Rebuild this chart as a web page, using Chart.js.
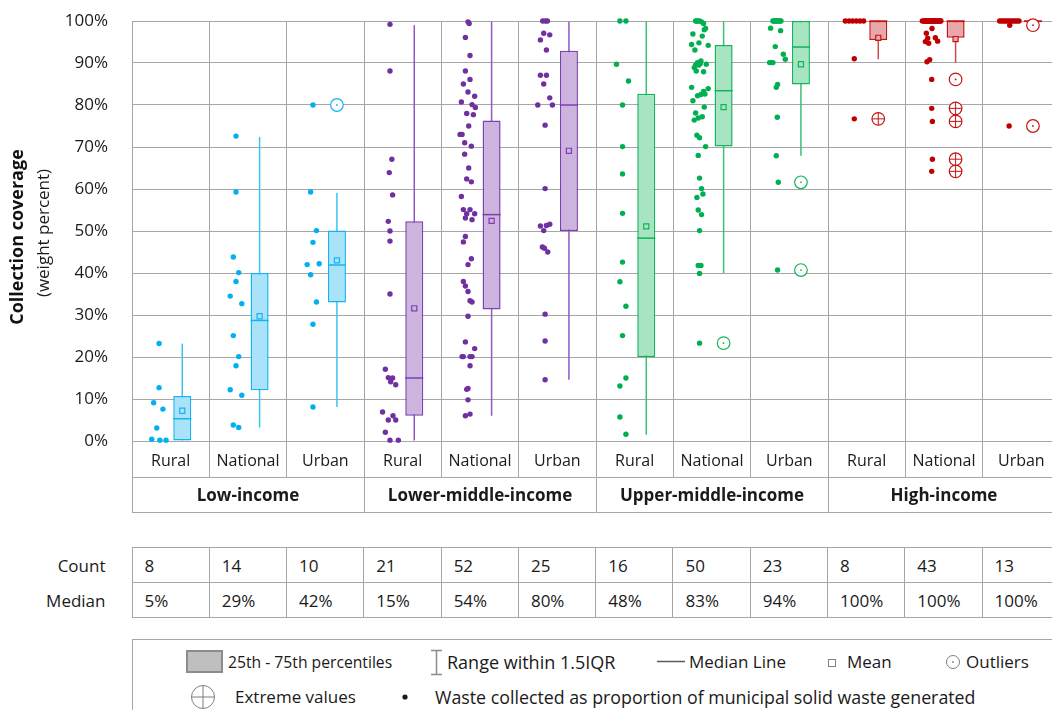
<!DOCTYPE html>
<html lang="en">
<head>
<meta charset="UTF-8">
<title>Collection coverage by income group</title>
<script src="https://cdn.jsdelivr.net/npm/chart.js"></script>
<style>
  body { margin: 0; background: #fff; overflow: hidden; font-family: 'Open Sans', sans-serif; color: #1a1a1a; }
  #page { position: relative; width: 1060px; height: 710px; }
  #chartBox { position: absolute; left: 0; top: 0; }
  #stats { position: absolute; left: 0; top: 547px; border-collapse: collapse; table-layout: fixed; width: 1060px; font-size: 17px; }
  #stats td { height: 34px; padding: 0 0 0 12px; border: 1px solid #a6a6a6; white-space: nowrap; }
  #stats td.rowHead { border: none; text-align: right; padding: 0 26px 0 0; }
  #legend { position: absolute; left: 132px; top: 639px; width: 940px; height: 90px; border: 1px solid #a6a6a6; box-sizing: border-box; }
  .lt { position: absolute; font-size: 17px; line-height: 22px; white-space: nowrap; }
  .sym { position: absolute; overflow: visible; }
</style>
</head>
<body>
<div id="page">
  <div id="chartBox"><canvas id="coverageChart" width="1060" height="515"></canvas></div>

  <table id="stats"></table>

  <div id="legend"></div>
  <svg class="sym" style="left:186px;top:650px" width="38" height="24"><rect x="1" y="1" width="35" height="21" fill="#bfbfbf" stroke="#8c8c8c" stroke-width="2"/></svg>
  <span class="lt" style="left:228px;top:651px;font-size:15.7px">25th - 75th percentiles</span>
  <svg class="sym" style="left:429px;top:649px" width="16" height="28"><path d="M2 1.5H13M7.5 1.5V25.5M2 25.5H13" stroke="#8c8c8c" stroke-width="1.5" fill="none"/></svg>
  <span class="lt" style="left:447px;top:651px;font-size:18px">Range within 1.5IQR</span>
  <svg class="sym" style="left:656px;top:655px" width="30" height="14"><path d="M1 6.5H29" stroke="#595959" stroke-width="1.5"/></svg>
  <span class="lt" style="left:689px;top:651px">Median Line</span>
  <svg class="sym" style="left:826px;top:657px" width="12" height="12"><rect x="2.5" y="2.5" width="7" height="7" fill="none" stroke="#7f7f7f" stroke-width="1"/></svg>
  <span class="lt" style="left:847px;top:651px">Mean</span>
  <svg class="sym" style="left:944px;top:653px" width="18" height="18"><circle cx="9" cy="9" r="6.5" fill="none" stroke="#7f7f7f" stroke-width="1"/><circle cx="9" cy="9" r="0.9" fill="#7f7f7f"/></svg>
  <span class="lt" style="left:966px;top:651px">Outliers</span>
  <svg class="sym" style="left:190px;top:684px" width="26" height="26"><circle cx="13" cy="13" r="11.5" fill="none" stroke="#7f7f7f" stroke-width="1"/><path d="M1.5 13H24.5M13 1.5V24.5" stroke="#7f7f7f" stroke-width="1"/></svg>
  <span class="lt" style="left:235px;top:686px">Extreme values</span>
  <svg class="sym" style="left:400px;top:692px" width="10" height="10"><circle cx="5" cy="5" r="2.6" fill="#1a1a1a"/></svg>
  <span class="lt" style="left:435px;top:686px;font-size:17.8px">Waste collected as proportion of municipal solid waste generated</span>
</div>

<script>
  // ---- data ----
  const groups = ['Low-income', 'Lower-middle-income', 'Upper-middle-income', 'High-income'];
  const areas = ['Rural', 'National', 'Urban'];

  // one entry per box, order: group by group, Rural / National / Urban
  const counts = [8, 14, 10, 21, 52, 25, 16, 50, 23, 8, 43, 13];
  const medianText = ['5%', '29%', '42%', '15%', '54%', '80%', '48%', '83%', '94%', '100%', '100%', '100%'];

  const q1 =          [0,    12.1, 33.0, 6.0,  31.3, 50.0, 20.0, 70.1, 84.9, 95.5, 96.0, 99.7];
  const medians =     [5.3,  28.7, 41.9, 15.0, 53.9, 80.0, 48.3, 83.4, 93.8, 100,  100,  100];
  const q3 =          [10.7, 40.0, 50.1, 52.3, 76.3, 92.9, 82.7, 94.3, 100,  100,  100,  100];
  const means =       [7.2,  29.7, 43.0, 31.6, 52.4, 69.1, 51.1, 79.5, 89.7, 96.0, 95.7, 99.0];
  const whiskerLow =  [0,    3.2,  8.1,  0,    6.0,  14.6, 1.5,  40.0, 67.9, 90.9, 90.1, 100];
  const whiskerHigh = [23.2, 72.4, 59.1, 99.0, 99.8, 99.8, 99.8, 99.8, 100,  100,  100,  100];

  // [box index, value]
  const outliers = [[2, 80.0], [7, 23.3], [8, 61.6], [8, 40.7], [10, 86.1], [11, 99.0], [11, 75.0]];
  const extremes = [[9, 76.7], [10, 79.2], [10, 76.1], [10, 67.1], [10, 64.2]];

  // country points per box: [position inside the column (0..1), value]
  const dots = [
    [[0.35,23.2],[0.35,12.7],[0.28,9.1],[0.40,7.6],[0.32,3.1],[0.255,0.4],[0.36,0.2],[0.44,0.2]],
    [[0.345,72.6],[0.345,59.3],[0.31,43.8],[0.38,40.1],[0.345,38.0],[0.27,34.5],[0.42,32.7],[0.31,25.1],[0.38,20.1],[0.345,17.9],[0.27,12.2],[0.42,10.9],[0.31,3.8],[0.38,3.2]],
    [[0.34,80.0],[0.31,59.3],[0.385,50.1],[0.34,47.3],[0.265,42.0],[0.42,42.2],[0.31,39.6],[0.385,33.1],[0.34,27.8],[0.34,8.1]],
    [[0.336,99.2],[0.336,88.1],[0.36,67.1],[0.327,63.9],[0.37,58.6],[0.314,52.3],[0.336,50.0],[0.336,47.6],[0.336,35.0],[0.276,17.1],[0.314,15.1],[0.37,15.0],[0.345,14.1],[0.41,13.4],[0.24,6.9],[0.375,6.0],[0.314,5.0],[0.41,5.0],[0.276,2.1],[0.336,0.2],[0.444,0.2]],
    [[0.345,99.8],[0.36,99.4],[0.311,96.1],[0.371,91.8],[0.311,88.1],[0.371,86.1],[0.285,85.0],[0.345,83.1],[0.431,82.1],[0.259,80.7],[0.397,80.1],[0.44,79.4],[0.328,78.0],[0.414,77.7],[0.354,75.0],[0.242,73.0],[0.268,73.0],[0.302,71.0],[0.388,70.2],[0.302,68.3],[0.354,65.0],[0.328,62.4],[0.388,61.7],[0.259,58.2],[0.285,55.1],[0.371,55.1],[0.328,54.1],[0.431,54.1],[0.311,53.1],[0.397,52.7],[0.311,48.7],[0.285,47.4],[0.388,43.4],[0.345,42.0],[0.285,38.0],[0.311,36.9],[0.345,35.6],[0.371,33.4],[0.397,33.1],[0.345,29.7],[0.311,23.6],[0.431,22.0],[0.268,20.1],[0.285,20.1],[0.371,20.1],[0.397,20.1],[0.371,17.9],[0.328,12.3],[0.345,12.5],[0.345,9.8],[0.311,6.0],[0.371,6.4]],
    [[0.311,100],[0.346,100],[0.372,100],[0.324,97.1],[0.402,96.7],[0.281,95.5],[0.359,93.1],[0.281,87.1],[0.359,87.1],[0.324,85.0],[0.402,81.7],[0.247,80.0],[0.436,80.0],[0.342,75.2],[0.342,60.1],[0.281,51.2],[0.324,50.1],[0.359,51.3],[0.402,51.6],[0.307,46.2],[0.333,45.9],[0.376,45.0],[0.342,30.2],[0.342,23.8],[0.342,14.6]],
    [[0.309,100],[0.387,100],[0.265,89.7],[0.42,85.7],[0.343,80.0],[0.343,70.1],[0.343,63.6],[0.343,54.2],[0.343,42.6],[0.309,37.9],[0.387,32.1],[0.343,25.1],[0.387,15.0],[0.309,13.1],[0.309,5.7],[0.387,1.6]],
    [[0.288,100],[0.305,100],[0.313,100],[0.339,100],[0.365,99.8],[0.391,99.4],
     [0.417,98.2],[0.4,97.9],[0.253,96.9],[0.374,96.4],[0.331,94.8],[0.236,94.4],[0.451,94.2],[0.279,93.1],
     [0.357,90.5],[0.313,90.1],[0.288,89.5],[0.27,88.9],[0.426,89.7],[0.391,87.9],[0.296,88.1],[0.331,89.5],[0.348,89.9],
     [0.236,84.2],[0.451,83.9],[0.313,82.2],[0.357,82.5],[0.409,82.6],[0.253,81.0],[0.391,83.2],
     [0.4,79.5],[0.288,78.1],[0.322,76.9],[0.374,77.2],[0.27,76.4],
     [0.305,72.8],[0.339,72.2],[0.417,70.1],[0.322,68.0],[0.339,62.6],[0.365,60.1],[0.383,58.8],[0.305,58.0],[0.322,55.0],[0.365,53.9],[0.339,50.1],[0.322,41.8],[0.357,41.8],[0.339,39.9],[0.339,23.3]],
    [[0.288,100],[0.3,100],[0.314,100],[0.327,100],[0.34,100],[0.353,100],[0.366,100],[0.38,100],[0.392,100],
     [0.258,98.3],[0.387,97.7],[0.318,93.9],[0.422,92.1],[0.448,90.9],[0.245,90.1],[0.268,90.1],[0.288,90.1],[0.348,84.9],[0.331,84.2],[0.344,77.1],[0.331,67.9],[0.357,61.6],[0.348,40.7]],
    [[0.224,100],[0.272,100],[0.318,100],[0.366,100],[0.414,100],[0.461,100],[0.34,91.0],[0.34,76.7]],
    [[0.22,100],[0.24,100],[0.26,100],[0.28,100],[0.30,100],[0.32,100],[0.34,100],[0.36,100],[0.38,100],[0.40,100],[0.42,100],[0.44,100],[0.46,100],
     [0.25,100],[0.29,100],[0.33,100],[0.37,100],[0.41,100],[0.45,100],[0.27,100],[0.31,100],[0.35,100],[0.39,100],[0.43,100],
     [0.30,100],[0.34,100],[0.38,100],[0.32,100],[0.36,100],
     [0.345,98.2],[0.272,97.1],[0.289,95.9],[0.388,96.0],[0.418,95.2],[0.259,95.1],[0.302,94.7],[0.28,90.3],[0.315,90.8],[0.341,86.1],[0.341,79.2],[0.35,76.1],[0.35,67.1],[0.341,64.2]],
    [[0.22,100],[0.245,100],[0.27,100],[0.295,100],[0.32,100],[0.345,100],[0.37,100],[0.395,100],[0.42,100],[0.445,100],[0.47,100],[0.35,99.0],[0.342,75.0]]
  ];

  // ---- styling ----
  const dotColors     = ['#00b0f0', '#7030a0', '#00b050', '#c00000'];
  const boxFills      = ['#a9e2f9', '#cdb4de', '#a7e4c2', '#e6a8a9'];
  const boxBorders    = ['#13b5f0', '#7d3fb1', '#12b45a', '#c41414'];
  const whiskerColors = ['#3cc2f3', '#9357c3', '#3dbf73', '#d24b4b'];

  const BOX_POS = 0.65;               // box sits right of the column centre
  const Y_AXIS_W = 132;
  const COL_W = (1060 - Y_AXIS_W) / 12;
  const gridGray = '#a6a6a6';

  const groupOf = i => Math.floor(i / 3);
  const byBox = arr => counts.map((_, i) => arr[groupOf(i)]);
  const at = (i, v) => ({ x: i + BOX_POS, y: v });

  Chart.defaults.font.family = "'Open Sans', sans-serif";
  Chart.defaults.color = '#1a1a1a';

  const dotPoints = [], dotColorList = [];
  dots.forEach((col, i) => col.forEach(([dx, v]) => {
    dotPoints.push({ x: i + dx, y: v });
    dotColorList.push(dotColors[groupOf(i)]);
  }));

  const yTitle = {
    id: 'yTitle',
    afterDraw(chart) {
      const { ctx, chartArea } = chart;
      const mid = (chartArea.top + chartArea.bottom) / 2;
      ctx.save();
      ctx.fillStyle = '#111';
      ctx.textAlign = 'center';
      ctx.textBaseline = 'middle';
      ctx.translate(18, mid + 6);
      ctx.rotate(-Math.PI / 2);
      ctx.font = "bold 18px 'Open Sans'";
      ctx.fillText('Collection coverage', 0, 0);
      ctx.restore();
      ctx.save();
      ctx.fillStyle = '#1a1a1a';
      ctx.textAlign = 'center';
      ctx.textBaseline = 'middle';
      ctx.translate(44, mid + 2);
      ctx.rotate(-Math.PI / 2);
      ctx.font = "17px 'Open Sans'";
      ctx.fillText('(weight percent)', 0, 0);
      ctx.restore();
    }
  };

  const colTicks = n => scale => { scale.ticks = Array.from({ length: n }, (_, k) => ({ value: k * (12 / (n - 1)) })); };

  new Chart(document.getElementById('coverageChart'), {
    type: 'scatter',
    data: {
      datasets: [
        {
          type: 'bar', label: 'Range within 1.5IQR',
          data: whiskerLow.map((lo, i) => at(i, [lo, whiskerHigh[i]])),
          backgroundColor: byBox(whiskerColors), borderWidth: 0,
          grouped: false, maxBarThickness: 1.5, order: 6, clip: false
        },
        {
          type: 'bar', label: '25th - 75th percentiles',
          data: q1.map((lo, i) => at(i, [lo, q3[i]])),
          backgroundColor: byBox(boxFills), borderColor: byBox(boxBorders),
          borderWidth: 1.5, borderSkipped: false,
          grouped: false, maxBarThickness: 18, order: 5, clip: false
        },
        {
          label: 'Median Line', data: medians.map((m, i) => at(i, m)),
          pointStyle: 'line', pointRadius: 9, pointBorderWidth: 1.5,
          pointBorderColor: byBox(boxBorders), order: 4, clip: false
        },
        {
          label: 'Mean', data: means.map((m, i) => at(i, m)),
          pointStyle: 'rect', pointRadius: 3.6, pointBorderWidth: 1.2,
          pointBackgroundColor: byBox(boxFills), pointBorderColor: byBox(boxBorders), order: 3, clip: false
        },
        {
          label: 'Outliers', data: outliers.map(([i, v]) => at(i, v)),
          pointStyle: 'circle', pointRadius: 6.3, pointBorderWidth: 1.2, pointBackgroundColor: '#fff',
          pointBorderColor: outliers.map(([i]) => boxBorders[groupOf(i)]), order: 2, clip: false
        },
        {
          label: 'Outlier centre', data: outliers.map(([i, v]) => at(i, v)),
          pointStyle: 'circle', pointRadius: 0.9, pointBorderWidth: 0,
          pointBackgroundColor: outliers.map(([i]) => boxBorders[groupOf(i)]), order: 1, clip: false
        },
        {
          label: 'Extreme values', data: extremes.map(([i, v]) => at(i, v)),
          pointStyle: 'circle', pointRadius: 6.3, pointBorderWidth: 1.2, pointBackgroundColor: '#fff',
          pointBorderColor: extremes.map(([i]) => boxBorders[groupOf(i)]), order: 2, clip: false
        },
        {
          label: 'Extreme cross', data: extremes.map(([i, v]) => at(i, v)),
          pointStyle: 'cross', pointRadius: 6.3, pointBorderWidth: 1,
          pointBorderColor: extremes.map(([i]) => boxBorders[groupOf(i)]), order: 1, clip: false
        },
        {
          label: 'Waste collected as proportion of municipal solid waste generated',
          data: dotPoints, pointStyle: 'circle', pointRadius: 2.7, pointBorderWidth: 0,
          pointBackgroundColor: dotColorList, order: 0, clip: false
        }
      ]
    },
    options: {
      responsive: false,
      animation: false,
      events: [],
      layout: { autoPadding: false, padding: { top: 21, bottom: 2, left: 0, right: 0 } },
      plugins: { legend: { display: false }, tooltip: { enabled: false } },
      scales: {
        y: {
          min: 0, max: 100,
          ticks: { stepSize: 10, padding: 0, font: { size: 17 }, callback: v => v + '%' },
          grid: { color: gridGray, drawTicks: true, tickLength: 24, tickColor: 'rgba(0,0,0,0)' },
          border: { color: gridGray },
          afterFit: s => { s.width = Y_AXIS_W; }
        },
        x: {
          type: 'linear', position: 'bottom', weight: 0, min: 0, max: 12, offset: false,
          afterBuildTicks: colTicks(13),
          ticks: {
            autoSkip: false, maxRotation: 0, padding: -25, labelOffset: COL_W / 2,
            font: { size: 16 }, callback: v => (v < 12 ? areas[v % 3] : '')
          },
          grid: { color: gridGray, offset: false, tickLength: 36 },
          border: { color: gridGray },
          afterFit: s => { s.height = 36; }
        },
        xg: {
          type: 'linear', position: 'bottom', weight: 1, min: 0, max: 12, offset: false,
          afterBuildTicks: colTicks(5),
          ticks: {
            autoSkip: false, maxRotation: 0, padding: -26, labelOffset: COL_W * 1.5,
            font: { size: 17, weight: 'bold' }, callback: v => (v < 12 ? groups[v / 3] : '')
          },
          grid: { color: gridGray, offset: false, drawOnChartArea: false, tickLength: 35 },
          border: { color: gridGray },
          afterFit: s => { s.height = 35; }
        },
        xb: {
          type: 'linear', position: 'bottom', weight: 2, min: 0, max: 12, offset: false,
          ticks: { display: false },
          grid: { display: false },
          border: { display: true, color: gridGray },
          afterFit: s => { s.height = 1; }
        }
      }
    },
    plugins: [yTitle]
  });

  // ---- count / median table ----
  const table = document.getElementById('stats');
  const colgroup = '<colgroup><col style="width:' + Y_AXIS_W + 'px">' + counts.map(() => '<col>').join('') + '</colgroup>';
  const row = (head, vals) => '<tr><td class="rowHead">' + head + '</td>' + vals.map(v => '<td>' + v + '</td>').join('') + '</tr>';
  table.innerHTML = colgroup + row('Count', counts) + row('Median', medianText);
</script>
</body>
</html>
